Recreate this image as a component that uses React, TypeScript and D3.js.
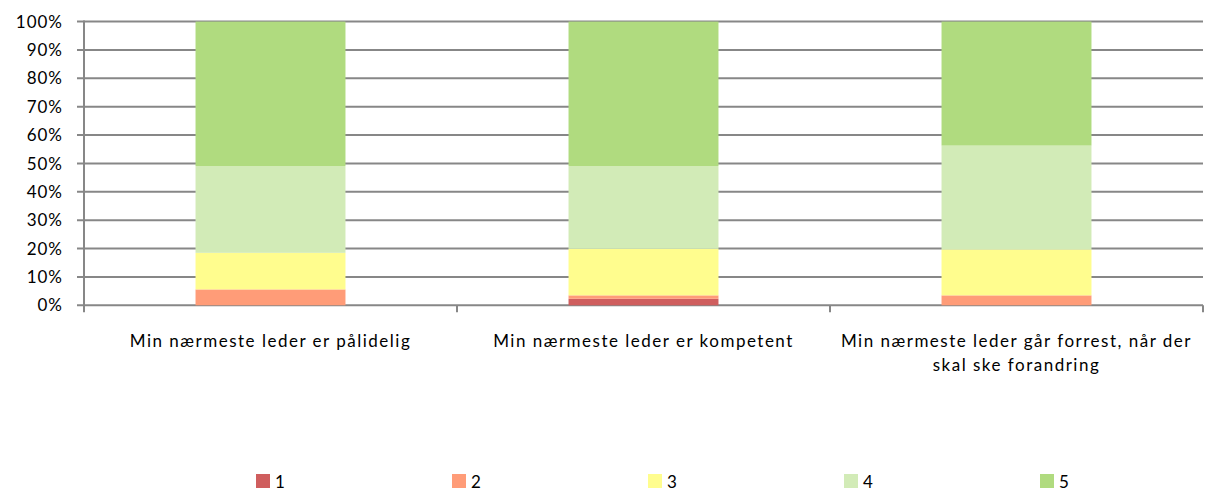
import React from "react";
import * as d3 from "d3";

// categories (survey statements) and how they wrap on the axis
const categories = [
  "Min nærmeste leder er pålidelig",
  "Min nærmeste leder er kompetent",
  "Min nærmeste leder går forrest, når der skal ske forandring",
];
const categoryLines = [
  ["Min nærmeste leder er pålidelig"],
  ["Min nærmeste leder er kompetent"],
  ["Min nærmeste leder går forrest, når der", "skal ske forandring"],
];

// answer shares in percent, one array per answer 1..5
const answer1 = [0, 2.3, 0];
const answer2 = [5.6, 1.2, 3.5];
const answer3 = [12.9, 16.4, 16.2];
const answer4 = [30.6, 29.2, 36.6];
const answer5 = [50.9, 50.9, 43.7];

const seriesNames = ["1", "2", "3", "4", "5"];
const seriesColors = ["#CF5E5E", "#FF9C78", "#FFFD8E", "#D2EBB7", "#B0DB7F"];
const yTicks = [0, 0.1, 0.2, 0.3, 0.4, 0.5, 0.6, 0.7, 0.8, 0.9, 1];

const W = 1211;
const H = 493;
const FONT = "Lato, 'Open Sans', sans-serif";
const GRID = "#878787";

export default function App() {
  const allSeries = [answer1, answer2, answer3, answer4, answer5];
  const rows = categories.map((c, i) => {
    const row: any = { cat: c };
    seriesNames.forEach((s, j) => (row[s] = allSeries[j][i] / 100));
    return row;
  });
  const stacked = d3.stack().keys(seriesNames)(rows);

  // plot area
  const left = 84, right = 1203, top = 21.6, bottom = 305.3;

  const x = d3.scaleBand()
    .domain(categories)
    .range([left, right])
    .paddingInner(0.598)
    .paddingOuter(0.299);
  const y = d3.scaleLinear().domain([0, 1]).range([bottom, top]);
  const step = x.step();

  const catTicks = categories.map((c) => (x(c) as number) - (step - x.bandwidth()) / 2);
  catTicks.push(right);

  const legendX = d3.scalePoint().domain(seriesNames).range([256, 1040]);

  return (
    <svg
      width={W}
      height={H}
      style={{ position: "absolute", left: 0, top: 0, background: "#fff" }}
      fontFamily={FONT}
    >
      {/* gridlines + y ticks */}
      {yTicks.map((t) => (
        <g key={t}>
          <line x1={left - 7} x2={right} y1={y(t)} y2={y(t)} stroke={GRID} strokeWidth={2} />
          <text x={63} y={y(t)} dy="0.36em" textAnchor="end" fontSize={17} letterSpacing={1} fill="#000">
            {d3.format(".0%")(t)}
          </text>
        </g>
      ))}

      {/* bars */}
      {stacked.map((layer, j) => (
        <g key={layer.key} fill={seriesColors[j]}>
          {layer.map((d, i) => (
            <rect
              key={i}
              x={x(categories[i])}
              width={x.bandwidth()}
              y={y(d[1])}
              height={Math.max(0, y(d[0]) - y(d[1]))}
            />
          ))}
        </g>
      ))}

      {/* y axis */}
      <line x1={left} x2={left} y1={top - 1} y2={bottom} stroke={GRID} strokeWidth={2} />
      {/* category ticks */}
      {catTicks.map((t, i) => (
        <line key={i} x1={t} x2={t} y1={bottom} y2={bottom + 7} stroke={GRID} strokeWidth={2} />
      ))}

      {/* category labels */}
      {categories.map((c, i) => (
        <text
          key={c}
          x={(x(c) as number) + x.bandwidth() / 2}
          y={347}
          textAnchor="middle"
          fontSize={17}
          letterSpacing={1.5}
          fill="#000"
        >
          {categoryLines[i].map((line, k) => (
            <tspan key={k} x={(x(c) as number) + x.bandwidth() / 2} dy={k === 0 ? 0 : 24}>
              {line}
            </tspan>
          ))}
        </text>
      ))}

      {/* legend */}
      {seriesNames.map((s, j) => (
        <g key={s} transform={`translate(${legendX(s)},474)`}>
          <rect width={14} height={14} fill={seriesColors[j]} />
          <text x={19} y={14} fontSize={17} fill="#000">
            {s}
          </text>
        </g>
      ))}
    </svg>
  );
}
